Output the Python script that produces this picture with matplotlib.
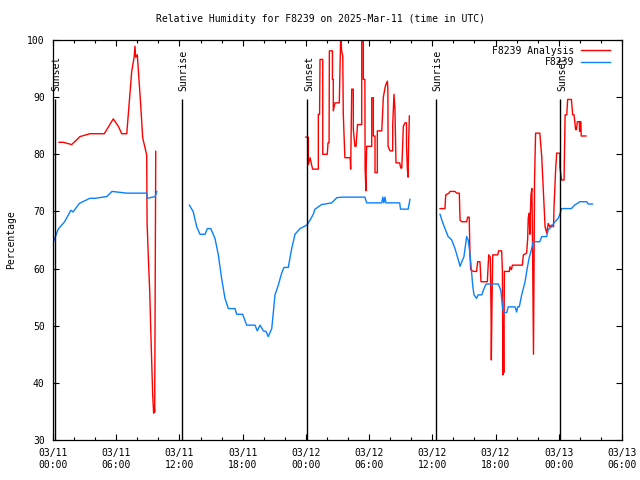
import datetime as dt
import matplotlib
matplotlib.use("Agg")
import matplotlib.pyplot as plt
from matplotlib.ticker import MultipleLocator
import numpy as np

# ── DATA (hours since 2025-03-11 00:00 UTC, relative humidity %) ─────────────
START = dt.datetime(2025, 3, 11, 0, 0)

red_t1 = [0.57, 0.98, 1.77, 2.56, 3.51, 4.87, 5.72, 6.20, 6.52, 7.00, 7.47, 7.70,
          7.78, 7.85, 8.00, 8.32, 8.51, 8.89, 8.93, 9.05, 9.18, 9.27, 9.37, 9.46,
          9.55, 9.60, 9.65, 9.75]
red_v1 = [82.1, 82.1, 81.7, 83.1, 83.6, 83.6, 86.2, 84.9, 83.6, 83.6, 94.5, 97.0,
          98.9, 97.0, 97.4, 88.7, 82.9, 79.9, 68.0, 61.8, 56.0, 49.8, 43.7, 37.9,
          34.7, 36.0, 34.9, 80.5]

red_t2 = [24.00, 24.23, 24.23, 24.40, 24.50, 24.64, 25.18, 25.18, 25.30, 25.34,
          25.60, 25.60, 26.03, 26.10, 26.20, 26.23, 26.52, 26.52, 26.60, 26.60,
          26.76, 27.17, 27.30, 27.40, 27.50, 27.55, 27.70, 28.20, 28.25, 28.35,
          28.50, 28.50, 28.65, 28.76, 28.90, 29.30, 29.30, 29.45, 29.45, 29.60,
          29.62, 29.70, 29.72, 29.77, 30.25, 30.25, 30.40, 30.40, 30.56, 30.56,
          30.78, 30.78, 31.20, 31.35, 31.55, 31.73, 31.78, 31.80, 31.98, 32.24,
          32.24, 32.36, 32.45, 32.55, 32.90, 33.00, 33.10, 33.25, 33.40, 33.55,
          33.55, 33.63, 33.70, 33.75, 33.82]
red_v2 = [83.0, 83.0, 78.2, 79.4, 78.5, 77.4, 77.4, 87.0, 87.0, 96.6,
          96.6, 80.0, 80.0, 82.0, 82.0, 98.1, 98.1, 93.1, 93.1, 87.6,
          89.0, 89.0, 100.5, 98.0, 97.2, 87.0, 79.4, 79.4, 77.4, 91.4,
          91.4, 84.4, 81.4, 81.4, 85.2, 85.2, 100.5, 100.5, 93.1, 93.1,
          77.4, 73.6, 77.0, 81.4, 81.4, 89.9, 89.9, 83.2, 83.2, 76.8,
          76.8, 84.1, 84.1, 90.0, 92.0, 92.8, 91.4, 81.4, 80.6, 80.6,
          85.2, 90.5, 88.0, 78.5, 78.5, 77.6, 77.6, 84.9, 85.5, 85.5,
          81.4, 77.4, 76.0, 82.0, 86.7]

red_t3 = [36.73, 37.20, 37.27, 37.58, 37.68, 38.15, 38.30, 38.56, 38.63, 38.79,
          39.26, 39.35, 39.50, 39.57, 39.64, 39.90, 40.20, 40.30, 40.52, 40.62,
          41.22, 41.35, 41.50, 41.57, 41.60, 41.65, 41.73, 42.20, 42.30, 42.58,
          42.65, 42.67, 42.70, 42.74, 42.78, 42.84, 43.30, 43.37, 43.50, 43.60,
          44.54, 44.64, 44.95, 45.05, 45.10, 45.20, 45.25, 45.36, 45.45, 45.50,
          45.60, 45.65, 45.70, 45.80, 46.20, 46.38, 46.50, 46.70, 46.86, 47.00,
          47.15, 47.30, 47.50, 47.55, 47.70, 47.80, 48.10, 48.10, 48.27, 48.50,
          48.60, 48.76, 48.84, 49.20, 49.32, 49.45, 49.60, 49.68, 49.76, 49.95,
          49.98, 50.05, 50.10, 50.13, 50.58]
red_v3 = [70.5, 70.5, 72.9, 73.2, 73.5, 73.5, 73.2, 73.2, 68.5, 68.2,
          68.2, 69.0, 69.0, 62.7, 59.8, 59.5, 59.5, 61.2, 61.2, 57.7,
          57.7, 62.4, 62.0, 52.7, 44.0, 52.5, 62.4, 62.4, 63.1, 63.1,
          59.5, 52.5, 41.4, 50.0, 41.8, 59.5, 59.5, 60.3, 59.8, 60.6,
          60.6, 62.4, 62.7, 65.3, 68.8, 69.7, 66.0, 72.9, 74.0, 66.0,
          45.0, 60.0, 75.5, 83.7, 83.7, 79.6, 74.9, 67.3, 66.2, 67.9,
          67.3, 67.6, 67.3, 70.8, 77.2, 80.2, 80.2, 77.8, 75.5, 75.5,
          86.9, 86.9, 89.6, 89.6, 86.9, 86.9, 84.3, 84.3, 85.7, 85.7,
          84.0, 85.7, 85.7, 83.2, 83.2]

blue_t1 = [0.0, 0.5, 1.1, 1.7, 1.9, 2.5, 3.5, 4.0, 5.1, 5.6, 7.0, 8.9, 8.95,
           9.7, 9.85]
blue_v1 = [64.5, 66.9, 68.2, 70.2, 69.9, 71.4, 72.3, 72.3, 72.6, 73.5, 73.2,
           73.2, 72.3, 72.6, 73.5]

blue_t2 = [12.94, 13.30, 13.64, 13.95, 14.43, 14.65, 14.97, 15.37, 15.69, 16.00,
           16.32, 16.64, 17.27, 17.43, 18.00, 18.38, 19.17, 19.39, 19.65, 19.96,
           20.21, 20.43, 20.76, 21.07, 21.38, 21.70, 21.92, 22.33, 22.65, 22.97,
           23.44, 24.08, 24.40, 24.70, 24.86, 25.50, 26.45, 26.93, 27.40, 29.60,
           29.77, 31.20, 31.30, 31.40, 31.50, 31.60, 32.90, 32.98, 33.70, 33.88]
blue_v2 = [71.1, 70.0, 67.3, 66.0, 66.0, 67.0, 67.0, 65.3, 62.4, 58.3,
           54.8, 53.0, 53.0, 52.0, 52.0, 50.1, 50.1, 49.1, 50.1, 49.1,
           49.0, 48.1, 49.5, 55.4, 57.1, 59.2, 60.2, 60.2, 63.5, 66.0,
           67.0, 67.6, 68.5, 69.5, 70.4, 71.2, 71.5, 72.4, 72.5, 72.5,
           71.5, 71.5, 72.5, 71.5, 72.5, 71.5, 71.5, 70.4, 70.4, 72.1]

blue_t3 = [36.73, 36.90, 37.20, 37.50, 37.84, 38.15, 38.47, 38.63, 38.80, 39.00,
           39.26, 39.40, 39.57, 39.83, 39.95, 40.20, 40.35, 40.70, 40.84, 41.10,
           42.26, 42.50, 42.68, 42.80, 43.06, 43.20, 43.85, 44.00, 44.10, 44.25,
           44.48, 44.80, 45.00, 45.18, 45.43, 45.58, 46.20, 46.38, 46.85, 47.00,
           47.30, 47.64, 47.95, 48.10, 48.27, 49.20, 49.50, 50.00, 50.65, 50.80,
           51.20]
blue_v3 = [69.5, 68.5, 67.0, 65.6, 65.0, 63.5, 61.5, 60.4, 61.2, 62.1,
           65.6, 65.0, 62.7, 57.1, 55.4, 54.8, 55.4, 55.4, 56.2, 57.3,
           57.3, 56.2, 53.0, 52.3, 52.3, 53.3, 53.3, 52.4, 53.3, 53.3,
           55.4, 57.7, 60.0, 61.8, 63.5, 64.7, 64.7, 65.6, 65.6, 66.8,
           67.3, 68.2, 68.8, 69.5, 70.5, 70.5, 71.1, 71.7, 71.7, 71.3,
           71.3]

sun_hours = [0.15, 12.27, 24.14, 36.32, 48.15]
sun_labels = ["Sunset", "Sunrise", "Sunset", "Sunrise", "Sunset"]


def join(*parts):
    # glue segments together with NaN gaps
    out = []
    for i, p in enumerate(parts):
        if i:
            out.append(np.nan)
        out.extend(p)
    return np.array(out, dtype=float)


red_t = join(red_t1, red_t2, red_t3)
red_v = join(red_v1, red_v2, red_v3)
blue_t = join(blue_t1, blue_t2, blue_t3)
blue_v = join(blue_v1, blue_v2, blue_v3)

# ── PLOT ─────────────────────────────────────────────────────────────────────
FONT = "DejaVu Sans Mono"
FS = 7

fig = plt.figure(figsize=(6.4, 4.8), dpi=100)
ax = fig.add_axes([53 / 640, 40 / 480, 569 / 640, 400 / 480])

ax.plot(red_t, red_v, color="#ff0000", lw=1.0, label="F8239 Analysis")
ax.plot(blue_t, blue_v, color="#0a80ff", lw=1.0, label="F8239")

for h, lab in zip(sun_hours, sun_labels):
    ax.vlines(h, 30, 89.7, color="black", lw=1.0)
    ax.text(h + 0.15, 91, lab, rotation=90, ha="center", va="bottom",
            fontsize=FS, family=FONT)

ax.set_xlim(0, 54)
ax.set_ylim(30, 100)
ax.xaxis.set_major_locator(MultipleLocator(6))
ax.xaxis.set_minor_locator(MultipleLocator(2))
ax.yaxis.set_major_locator(MultipleLocator(10))
xt = np.arange(0, 55, 6)
ax.set_xticks(xt)
ax.set_xticklabels([(START + dt.timedelta(hours=int(h))).strftime("%m/%d\n%H:%M")
                    for h in xt], fontsize=FS, family=FONT)
ax.set_yticks(np.arange(30, 101, 10))
ax.set_yticklabels([str(v) for v in range(30, 101, 10)], fontsize=FS, family=FONT)
ax.tick_params(which="both", direction="in", top=True, right=True, width=0.8)
ax.tick_params(which="major", length=4.5, pad=6)
ax.tick_params(which="minor", length=2.5)
for s in ax.spines.values():
    s.set_linewidth(0.9)

leg = ax.legend(loc="upper right", bbox_to_anchor=(1 - 6 / 569, 1.0),
                frameon=False, markerfirst=False,
                prop={"family": FONT, "size": FS}, handlelength=3.0,
                handletextpad=0.7, labelspacing=0.15, borderaxespad=0.2)

fig.text(0.5, 1 - 19 / 480, "Relative Humidity for F8239 on 2025-Mar-11 (time in UTC)",
         ha="center", va="center", fontsize=FS, family=FONT)
fig.text(11 / 640, 0.5, "Percentage", rotation=90, ha="center", va="center",
         fontsize=FS, family=FONT)

fig.savefig("out.png", dpi=100)
